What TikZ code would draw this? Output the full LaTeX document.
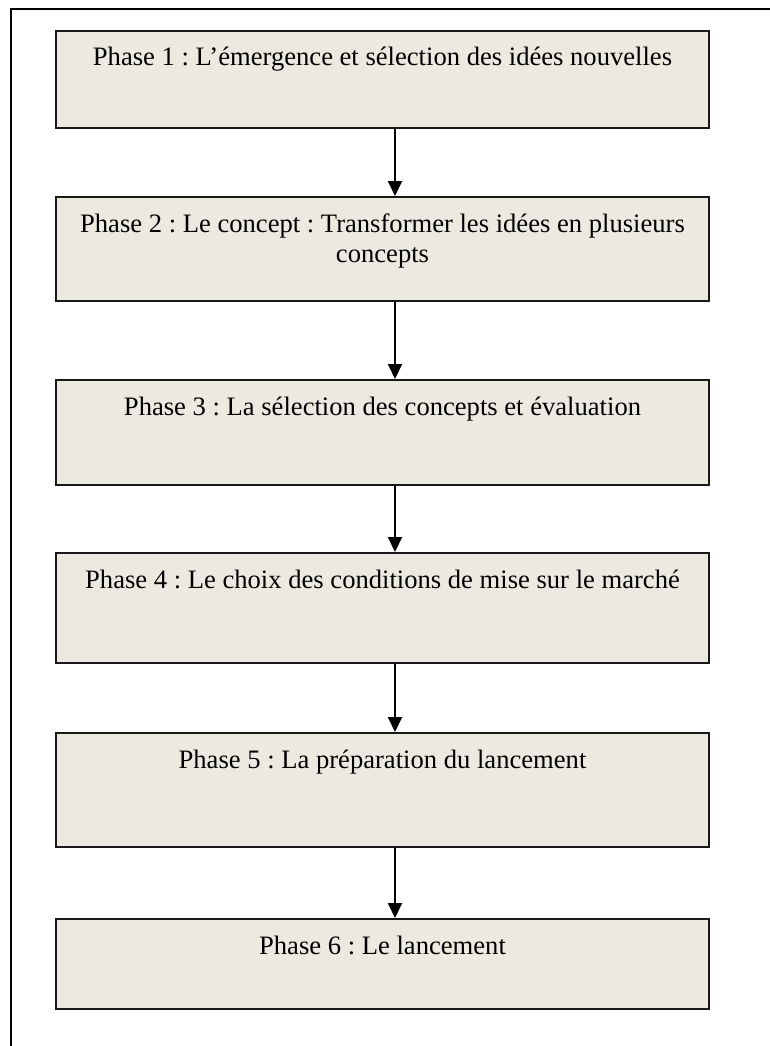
\documentclass[tikz,border=0pt]{standalone}
\usepackage{fontspec}
\setmainfont{Liberation Serif}
\usetikzlibrary{arrows.meta}
\definecolor{boxfill}{RGB}{236,233,224}
\frenchspacing
\begin{document}
\begin{tikzpicture}[x=1pt,y=-1pt,
  phasebox/.style={draw=black!90, line width=2pt, fill=boxfill, minimum width=653pt,
    inner sep=0pt, anchor=north west},
  phasetext/.style={anchor=base, inner sep=0pt, align=center,
    font=\fontsize{26.6}{30.6}\selectfont},
  flow/.style={line width=2pt, -{Triangle[width=14pt,length=15pt]}}]
\useasboundingbox (0,0) rectangle (769,1046);
% outer frame (left and top edges fall inside the page)
\draw[line width=2pt] (11,1060) -- (11,9) -- (780,9);
% phase boxes
\node[phasebox, minimum height=97pt]  (b1) at (55,30)  {};
\node[phasebox, minimum height=104pt] (b2) at (55,196) {};
\node[phasebox, minimum height=105pt] (b3) at (55,379) {};
\node[phasebox, minimum height=110pt] (b4) at (55,552) {};
\node[phasebox, minimum height=114pt] (b5) at (55,732) {};
\node[phasebox, minimum height=90pt]  (b6) at (55,918) {};
% phase labels (base anchor of a two-line label is its last line)
\node[phasetext] (t1) at ([yshift=-36pt]b1.north) {Phase 1 : L’émergence et sélection des idées nouvelles};
\node[phasetext] (t2) at ([yshift=-66.6pt]b2.north) {Phase 2 : Le concept : Transformer les idées en plusieurs\\concepts};
\node[phasetext] (t3) at ([yshift=-36pt]b3.north) {Phase 3 : La sélection des concepts et évaluation};
\node[phasetext] (t4) at ([yshift=-36pt]b4.north) {Phase 4 : Le choix des conditions de mise sur le marché};
\node[phasetext] (t5) at ([yshift=-36pt]b5.north) {Phase 5 : La préparation du lancement};
\node[phasetext] (t6) at ([yshift=-36pt]b6.north) {Phase 6 : Le lancement};
% arrows between phases
\coordinate (ax) at (395,0);
\draw[flow] (b1.south -| ax) -- (b2.north -| ax);
\draw[flow] (b2.south -| ax) -- (b3.north -| ax);
\draw[flow] (b3.south -| ax) -- (b4.north -| ax);
\draw[flow] (b4.south -| ax) -- (b5.north -| ax);
\draw[flow] (b5.south -| ax) -- (b6.north -| ax);
\end{tikzpicture}
\end{document}
